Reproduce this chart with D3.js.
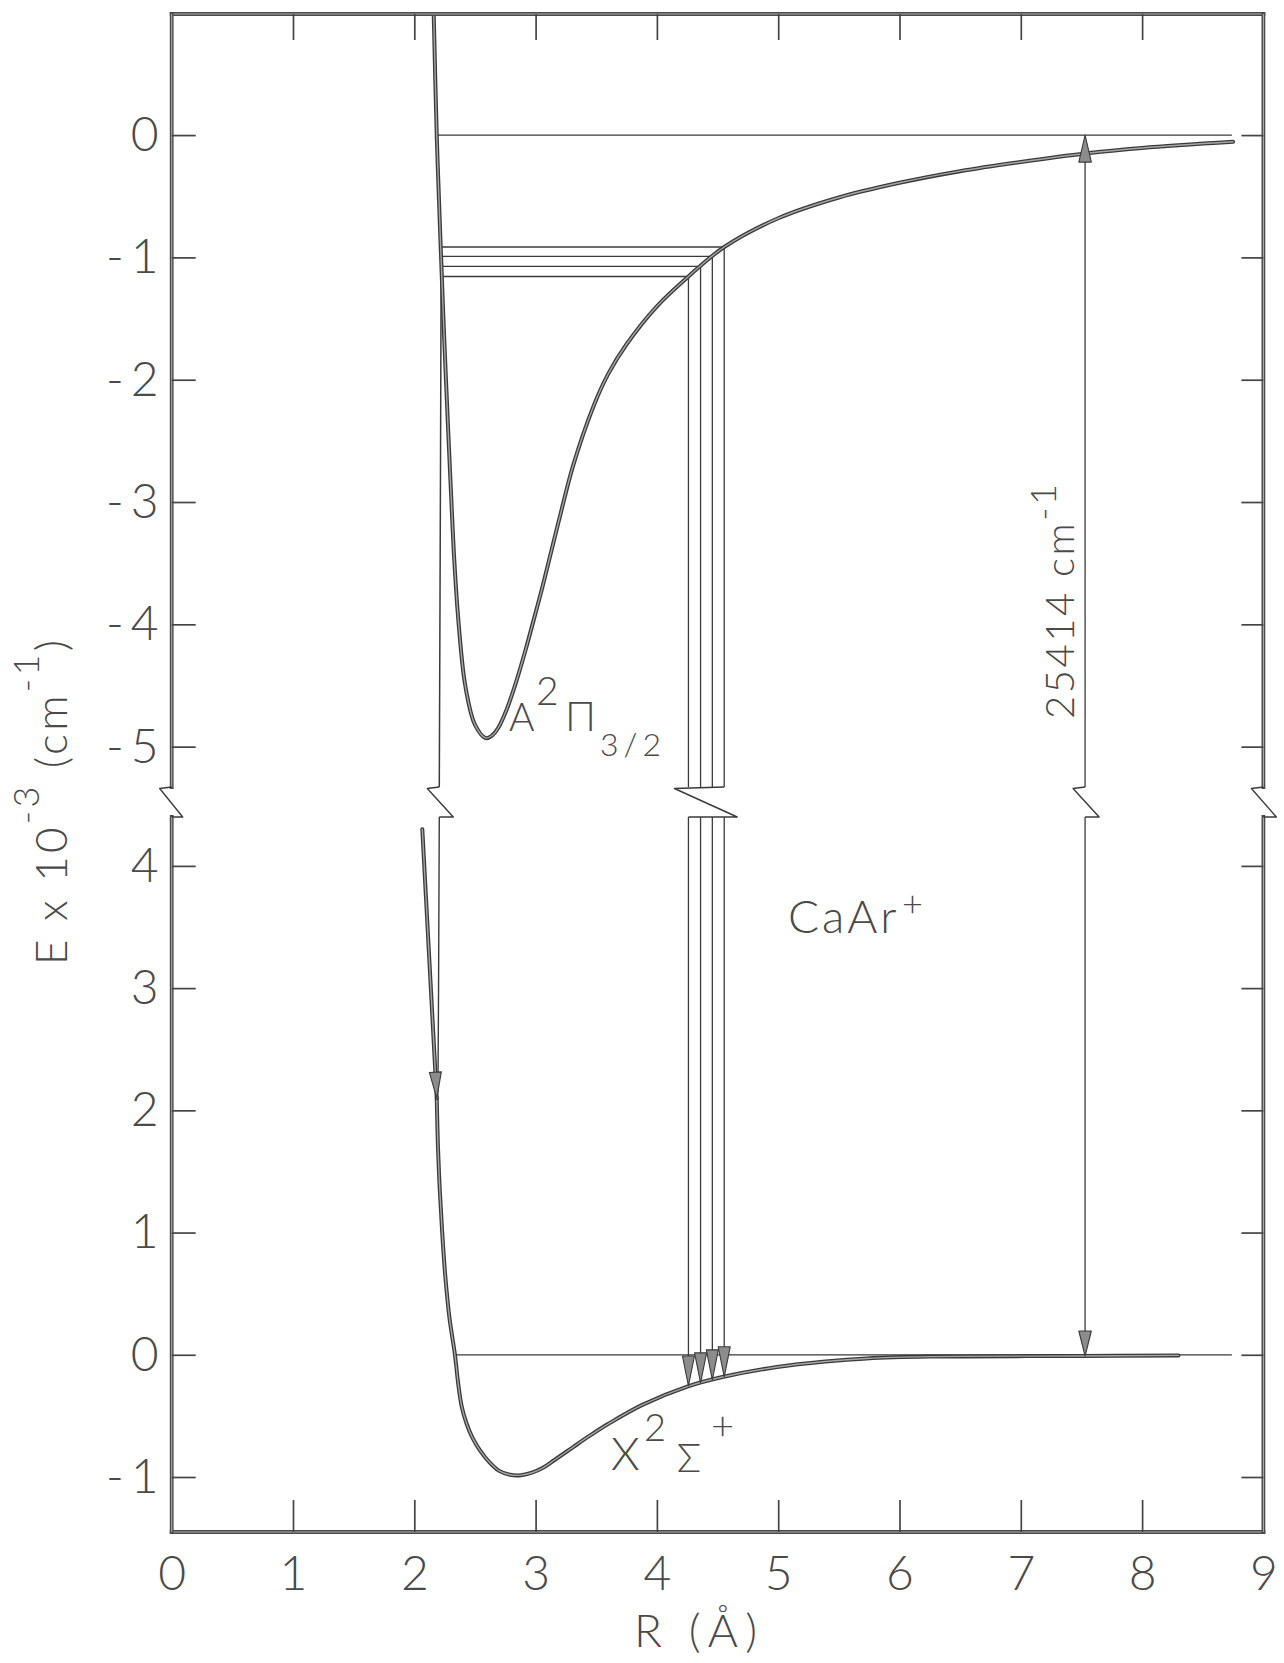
<!DOCTYPE html>
<html>
<head>
<meta charset="utf-8">
<script src="https://cdn.jsdelivr.net/npm/d3@7"></script>
<style>
  body { margin: 0; background: #fff; }
  svg { display: block; background: #fff; }
  text { font-family: Lato, "Open Sans", "DejaVu Sans", sans-serif; font-weight: 300; fill: #4a4a4a; }
</style>
</head>
<body>
<svg id="chart" width="1284" height="1663"></svg>
<script>
// ---------------- data ----------------
const rTicks = [0, 1, 2, 3, 4, 5, 6, 7, 8, 9];
const frameTicksR = [1, 2, 3, 4, 5, 6, 7, 8];
const upperTicks = [0, -1, -2, -3, -4, -5];          // E x 10^-3 relative to A-state limit
const lowerTicks = [4, 3, 2, 1, 0, -1];              // E x 10^-3 relative to X-state limit

// A 2Pi 3/2 potential curve (upper panel)
const aStateR = [2.16, 2.185, 2.217, 2.24, 2.261, 2.306, 2.331, 2.366, 2.42, 2.50, 2.59, 2.64, 2.69, 2.76, 2.84, 2.92, 2.98, 3.05, 3.11, 3.20, 3.31, 3.48, 3.60, 3.75, 4.0, 4.26, 4.555, 5.0, 5.5, 6.0, 6.5, 7.0, 7.53, 8.0, 8.75];
const aStateE = [0.99, 0.0, -0.90, -1.5, -2.0, -3.0, -3.5, -4.0, -4.5, -4.82, -4.93, -4.91, -4.85, -4.70, -4.47, -4.20, -3.98, -3.72, -3.48, -3.12, -2.70, -2.21, -1.95, -1.71, -1.40, -1.156, -0.915, -0.68, -0.51, -0.39, -0.295, -0.22, -0.15, -0.105, -0.055];

// X 2Sigma+ potential curve (lower panel)
const xStateR = [2.185, 2.195, 2.21, 2.23, 2.255, 2.29, 2.335, 2.36, 2.39, 2.43, 2.48, 2.54, 2.62, 2.70, 2.79, 2.88, 2.97, 3.06, 3.15, 3.31, 3.45, 3.6, 3.88, 4.25, 4.55, 4.99, 5.39, 5.73, 6.24, 7.5, 8.30];
const xStateE = [2.1, 1.7, 1.35, 1.0, 0.65, 0.3, 0.0, -0.22, -0.42, -0.56, -0.68, -0.78, -0.88, -0.95, -0.982, -0.985, -0.965, -0.925, -0.865, -0.755, -0.66, -0.565, -0.41, -0.26, -0.18, -0.10, -0.055, -0.03, -0.015, -0.01, -0.005];

// X-state inner wall drawn through the break
const xWallUpperR = [2.16, 2.185, 2.222, 2.215, 2.206];
const xWallUpperE = [0.99, 0.0, -0.9, -3.0, -5.33];
const xWallLowerR = [2.206, 2.20, 2.195];
const xWallLowerE = [4.40, 3.0, 2.15];

// slanted arrow in the lower panel
const slantArrowR = [2.066, 2.185];
const slantArrowE = [4.30, 2.10];

// vibrational levels of A state and the vertical transitions to X
const levelE = [-0.915, -0.992, -1.074, -1.156];
const transitionR = [4.555, 4.457, 4.36, 4.26];
const transitionLowerE = [-0.18, -0.205, -0.23, -0.255];
const levelStartR = 2.225;

// dissociation limits
const limitUpperStartR = 2.185;
const limitLowerStartR = 2.343;
const limitEndR = 8.74;

// separation of the two limits
const gapR = 7.53;
const gapLowerE = -0.01;
const gapLabel = "25414";

// ---------------- layout ----------------
const svg = d3.select("#chart");
const X0 = 171.7, X1 = 1263.4, YT = 14, YB = 1532, BT = 787, BB = 817;
const x = d3.scaleLinear().domain([0, 9]).range([X0, X1]);
const yUp = d3.scaleLinear().domain([-5.33, 0.99]).range([BT, YT]);
const yLo = d3.scaleLinear().domain([-1.45, 4.40]).range([YB, BB]);

const DARK = "#3a3a3a", MID = "#a6a6a6", TXT = "#4a4a4a";
const line = d3.line().curve(d3.curveCatmullRom.alpha(0.5));
const straight = d3.line();

function thick(g, pts, gen) {
  gen = gen || line;
  g.append("path").attr("d", gen(pts)).attr("fill", "none").attr("stroke", DARK)
    .attr("stroke-width", 4.0).attr("stroke-linecap", "round").attr("stroke-linejoin", "round");
  g.append("path").attr("d", gen(pts)).attr("fill", "none").attr("stroke", MID)
    .attr("stroke-width", 1.4).attr("stroke-linecap", "round");
}
function thin(g, pts, w) {
  g.append("path").attr("d", straight(pts)).attr("fill", "none").attr("stroke", DARK)
    .attr("stroke-width", w || 1.3).attr("stroke-linejoin", "round");
}
function head(g, tip, from, len, w) {
  const dx = tip[0] - from[0], dy = tip[1] - from[1];
  const L = Math.hypot(dx, dy), ux = dx / L, uy = dy / L;
  const bx = tip[0] - ux * len, by = tip[1] - uy * len;
  const nx = -uy * w / 2, ny = ux * w / 2;
  g.append("path").attr("d", `M${tip[0]},${tip[1]}L${bx + nx},${by + ny}L${bx - nx},${by - ny}Z`)
    .attr("fill", "#8c8c8c").attr("stroke", DARK).attr("stroke-width", 1.1).attr("stroke-linejoin", "round");
}
function zig(g, topX, leftX, rightX, botX) {
  g.append("path")
    .attr("d", `M${topX},${BT}L${leftX},${BT + 1.5}L${rightX},${BB}L${botX},${BB}`)
    .attr("fill", "none").attr("stroke", DARK).attr("stroke-width", 1.4).attr("stroke-linejoin", "round");
}

const gMarks = svg.append("g");

// ---------------- frame ----------------
const gFrame = svg.append("g");
function frameSeg(pts) {
  gFrame.append("path").attr("d", straight(pts)).attr("fill", "none").attr("stroke", "#4a4a4a")
    .attr("stroke-width", 3.8).attr("stroke-linecap", "square");
  gFrame.append("path").attr("d", straight(pts)).attr("fill", "none").attr("stroke", "#b0b0b0")
    .attr("stroke-width", 1.0);
}
frameSeg([[X0, YT], [X1, YT]]);
frameSeg([[X0, YB], [X1, YB]]);
frameSeg([[X0, YT], [X0, BT]]);
frameSeg([[X0, BB], [X0, YB]]);
frameSeg([[X1, YT], [X1, BT]]);
frameSeg([[X1, BB], [X1, YB]]);
zig(gFrame, X0, X0 - 12, X0 + 11, X0);
zig(gFrame, X1, X1 - 12, X1 + 13, X1);

// ---------------- axes ----------------
function styleAxis(g) {
  g.attr("font-family", null).attr("font-size", null);
  g.select(".domain").remove();
  g.selectAll(".tick line").attr("stroke", "#444").attr("stroke-width", 1.7);
  g.selectAll(".tick text").attr("fill", TXT).attr("font-size", 48);
}
function minusLabels(g) {
  g.selectAll(".tick text").each(function (d) {
    if (d < 0) {
      const t = d3.select(this);
      t.text(null);
      t.append("tspan").text("-");
      t.append("tspan").attr("dx", 7).text(Math.abs(d));
    }
  });
}
const fmt = d => String(d);

const axL1 = svg.append("g").attr("transform", `translate(${X0},0)`)
  .call(d3.axisLeft(yUp).tickValues(upperTicks).tickSize(-24).tickPadding(13).tickFormat(fmt));
styleAxis(axL1); minusLabels(axL1);
const axL2 = svg.append("g").attr("transform", `translate(${X0},0)`)
  .call(d3.axisLeft(yLo).tickValues(lowerTicks).tickSize(-24).tickPadding(13).tickFormat(fmt));
styleAxis(axL2); minusLabels(axL2);

const axR1 = svg.append("g").attr("transform", `translate(${X1},0)`)
  .call(d3.axisRight(yUp).tickValues(upperTicks).tickSize(-22).tickFormat(""));
styleAxis(axR1);
const axR2 = svg.append("g").attr("transform", `translate(${X1},0)`)
  .call(d3.axisRight(yLo).tickValues(lowerTicks).tickSize(-22).tickFormat(""));
styleAxis(axR2);

const axT = svg.append("g").attr("transform", `translate(0,${YT})`)
  .call(d3.axisTop(x).tickValues(frameTicksR).tickSize(-26).tickFormat(""));
styleAxis(axT);

const axB = svg.append("g").attr("transform", `translate(0,${YB})`)
  .call(d3.axisBottom(x).tickValues(rTicks).tickSize(-32).tickPadding(24).tickFormat(fmt));
styleAxis(axB);
axB.selectAll(".tick").filter(d => d === 0 || d === 9).select("line").remove();

// ---------------- curves ----------------
// dissociation limits
thin(gMarks, [[x(limitUpperStartR), yUp(0)], [x(limitEndR), yUp(0)]], 1.2);
thin(gMarks, [[x(limitLowerStartR), yLo(0)], [x(limitEndR), yLo(0)]], 1.2);

// vibrational levels
levelE.forEach((e, i) => thin(gMarks, [[x(levelStartR), yUp(e)], [x(transitionR[i]), yUp(e)]], 1.3));

// X wall (thin) through the break
thin(gMarks, xWallUpperR.map((r, i) => [x(r), yUp(xWallUpperE[i])]), 1.5);
thin(gMarks, xWallLowerR.map((r, i) => [x(r), yLo(xWallLowerE[i])]), 1.4);
{
  const xw = x(xWallUpperR[xWallUpperR.length - 1]);
  zig(gMarks, xw, xw - 12, xw + 14, xw);
}

// transitions bundle
transitionR.forEach((r, i) => {
  thin(gMarks, [[x(r), yUp(levelE[i])], [x(r), BT]], 1.3);
  thin(gMarks, [[x(r), BB], [x(r), yLo(transitionLowerE[i]) - 20]], 1.3);
});
{
  const rMin = d3.min(transitionR), rMax = d3.max(transitionR);
  zig(gMarks, x(rMax), x(rMin) - 14, x(rMax) + 13, x(rMin));
}

// 25414 cm-1 double arrow
thin(gMarks, [[x(gapR), yUp(0) + 20], [x(gapR), BT]], 1.3);
thin(gMarks, [[x(gapR), BB], [x(gapR), yLo(gapLowerE) - 20]], 1.3);
zig(gMarks, x(gapR), x(gapR) - 12, x(gapR) + 14, x(gapR));

// potential curves
thick(gMarks, aStateR.map((r, i) => [x(r), yUp(aStateE[i])]));
thick(gMarks, xStateR.map((r, i) => [x(r), yLo(xStateE[i])]));
thick(gMarks, slantArrowR.map((r, i) => [x(r), yLo(slantArrowE[i])]), straight);

// arrowheads
transitionR.forEach((r, i) => head(gMarks, [x(r), yLo(transitionLowerE[i])], [x(r), BB], 30, 12));
head(gMarks, [x(gapR), yUp(0)], [x(gapR), BT], 27, 12.5);
head(gMarks, [x(gapR), yLo(gapLowerE)], [x(gapR), BB], 25, 12.5);
head(gMarks, [x(slantArrowR[1]), yLo(slantArrowE[1])], [x(slantArrowR[0]), yLo(slantArrowE[0])], 26, 12);

// ---------------- labels ----------------
const gTxt = svg.append("g");

// axis titles
gTxt.append("text").attr("x", 634).attr("y", 1647).attr("font-size", 46)
  .attr("textLength", 123).attr("lengthAdjust", "spacing").text("R (Å)");

const yT = gTxt.append("text").attr("transform", "translate(67,965) rotate(-90)")
  .attr("font-size", 44).attr("textLength", 325).attr("lengthAdjust", "spacing");
yT.append("tspan").text("E x 10");
yT.append("tspan").attr("font-size", 36).attr("dy", -28).text("-3");
yT.append("tspan").attr("dy", 28).text(" (cm");
yT.append("tspan").attr("font-size", 36).attr("dy", -28).text("-1");
yT.append("tspan").attr("dy", 28).text(")");

// state labels
const aL = gTxt.append("text").attr("font-size", 39);
aL.append("tspan").attr("x", 509).attr("y", 731).text("A");
aL.append("tspan").attr("x", 536).attr("y", 705).text("2");
aL.append("tspan").attr("x", 565).attr("y", 731).attr("font-size", 41).text("Π");
aL.append("tspan").attr("x", 600).attr("y", 756).attr("font-size", 32).attr("letter-spacing", 5).text("3/2");

const xL = gTxt.append("text").attr("font-size", 46);
xL.append("tspan").attr("x", 611).attr("y", 1470).text("X");
xL.append("tspan").attr("x", 644).attr("y", 1441).attr("font-size", 38).text("2");
xL.append("tspan").attr("x", 677).attr("y", 1472).attr("font-size", 40).text("Σ");
xL.append("tspan").attr("x", 711).attr("y", 1440).attr("font-size", 40).text("+");

const cL = gTxt.append("text").attr("font-size", 46);
cL.append("tspan").attr("x", 788).attr("y", 933).attr("letter-spacing", 3).text("CaAr");
cL.append("tspan").attr("x", 902).attr("y", 917).attr("font-size", 36).text("+");

const gL = gTxt.append("text").attr("transform", "translate(1074,719) rotate(-90)")
  .attr("font-size", 40).attr("textLength", 235).attr("lengthAdjust", "spacing");
gL.append("tspan").text(gapLabel + " cm");
gL.append("tspan").attr("font-size", 36).attr("dy", -18).text("-1");
</script>
</body>
</html>
